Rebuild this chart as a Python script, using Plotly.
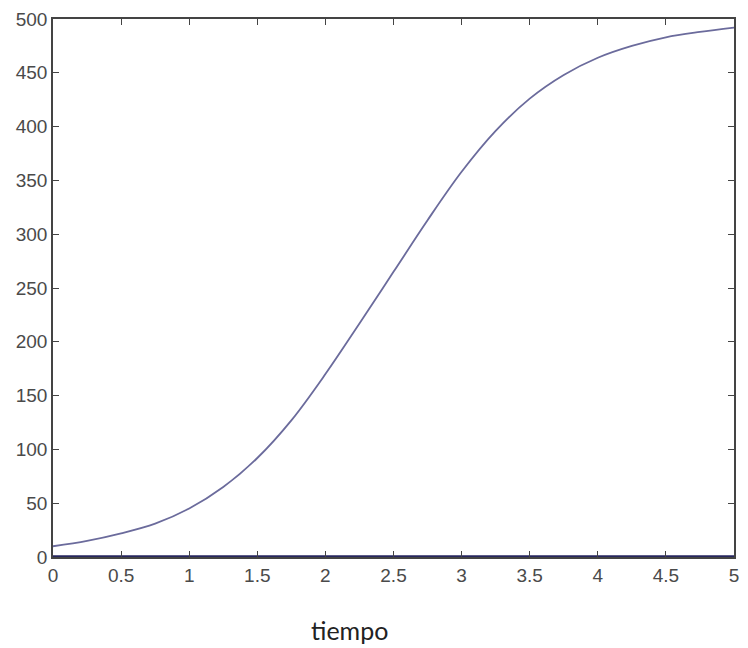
import plotly.graph_objects as go

tiempo = [0, 0.25, 0.5, 0.75, 1, 1.25, 1.5, 1.75, 2, 2.25, 2.5, 2.75, 3,
          3.25, 3.5, 3.75, 4, 4.25, 4.5, 4.75, 5]
poblacion = [10, 15, 22, 31, 45, 65, 92, 127, 170, 217, 265, 313, 358,
             396, 426, 448, 464, 475, 483, 488, 492]
cero = [0, 0]
cero_t = [0, 5]

x_ticks = [0, 0.5, 1, 1.5, 2, 2.5, 3, 3.5, 4, 4.5, 5]
x_labels = ["0", "0.5", "1", "1.5", "2", "2.5", "3", "3.5", "4", "4.5", "5"]
y_ticks = [0, 50, 100, 150, 200, 250, 300, 350, 400, 450, 500]

fig = go.Figure()
fig.add_trace(go.Scatter(x=tiempo, y=poblacion, mode="lines",
                         line=dict(color="#6b6b9c", width=1.8, shape="spline", smoothing=1),
                         showlegend=False))
fig.add_trace(go.Scatter(x=cero_t, y=cero, mode="lines",
                         line=dict(color="#26265e", width=3.5),
                         showlegend=False))

axis_font = dict(family="Liberation Sans, Arial, sans-serif", size=19, color="#4a4a4a")

fig.update_layout(
    width=748, height=648,
    margin=dict(l=53, r=9, t=17, b=91),
    paper_bgcolor="white", plot_bgcolor="white",
    xaxis=dict(range=[0, 5], tickvals=x_ticks, ticktext=x_labels,
               showgrid=False, zeroline=False, showline=True, mirror="ticks",
               linecolor="#444444", linewidth=1.5, ticks="inside", ticklen=6,
               tickcolor="#444444", tickwidth=1.2, tickfont=axis_font),
    yaxis=dict(range=[0, 500], tickvals=y_ticks,
               showgrid=False, zeroline=False, showline=True, mirror="ticks",
               linecolor="#444444", linewidth=1.5, ticks="inside", ticklen=6,
               tickcolor="#444444", tickwidth=1.2, tickfont=axis_font),
    annotations=[dict(text="tiempo", xref="paper", yref="paper",
                      x=(352 - 53) / (739 - 53), y=-(630 - 557) / (557 - 17),
                      xanchor="center", yanchor="middle", showarrow=False,
                      font=dict(family="Lato, sans-serif", size=25, color="#222222"))],
)

fig.write_html("out.html")
